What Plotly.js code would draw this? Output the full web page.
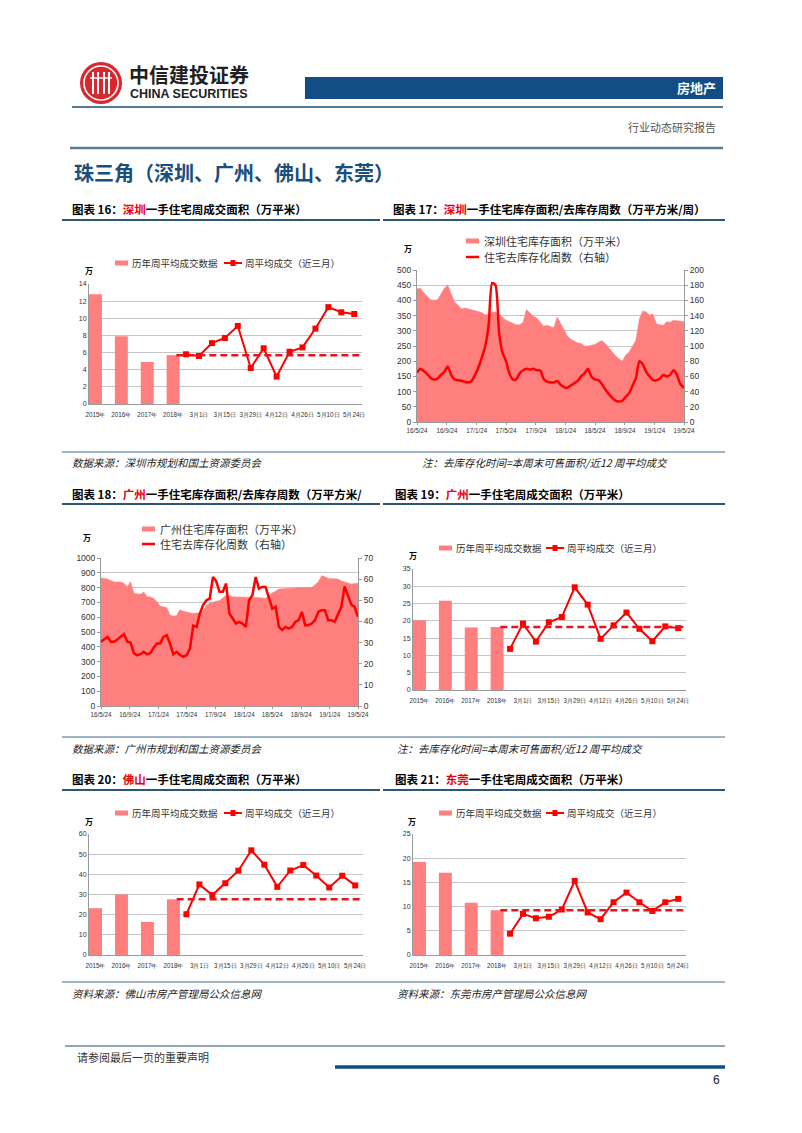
<!DOCTYPE html>
<html><head><meta charset="utf-8">
<script src="https://cdn.plot.ly/plotly-3.0.1.min.js"></script>
<style>html,body{margin:0;padding:0;background:#fff}#p{width:802px;height:1133px}</style>
</head><body><div id="p"></div>
<script>
// ---------- DATA ----------
const years = ['2015年','2016年','2017年','2018年'];
const weeks = ['2月22日','3月1日','3月8日','3月15日','3月22日','3月29日','4月5日','4月12日','4月19日','4月26日','5月3日','5月10日','5月17日','5月24日'];

const szBars = [12.8, 7.9, 4.9, 5.7];
const szWeekly = [5.8, 5.6, 7.1, 7.7, 9.1, 4.2, 6.5, 3.2, 6.1, 6.6, 8.8, 11.3, 10.7, 10.5];
const gzBars = [20.2, 25.8, 18.1, 18.2];
const gzWeekly = [11.9, 19.2, 14.0, 19.6, 21.1, 29.7, 24.7, 14.8, 18.7, 22.4, 17.7, 14.1, 18.4, 17.9];
const fsBars = [23.2, 30.0, 16.4, 27.6];
const fsWeekly = [20.2, 35.0, 29.7, 35.6, 41.8, 51.9, 44.8, 33.8, 41.9, 44.6, 39.4, 33.5, 39.3, 34.5];
const dgBars = [19.2, 17.0, 10.8, 9.25];
const dgWeekly = [4.4, 8.5, 7.6, 7.9, 9.4, 15.3, 8.8, 7.4, 10.9, 12.9, 10.9, 9.1, 10.9, 11.6];

const seriesStart = '2016-05-24', seriesEnd = '2019-05-24';
const dateTicks = ['2016-05-24','2016-09-24','2017-01-24','2017-05-24','2017-09-24','2018-01-24','2018-05-24','2018-09-24','2019-01-24','2019-05-24'];
const dateTickText = ['16/5/24','16/9/24','17/1/24','17/5/24','17/9/24','18/1/24','18/5/24','18/9/24','19/1/24','19/5/24'];

const szInventory = [438,440,425,415,402,400,402,420,440,450,
 425,395,385,372,375,372,370,368,365,360,
 352,355,362,362,355,345,335,330,325,320,
 320,328,370,358,348,342,330,315,318,315,
 310,345,325,305,282,272,265,260,258,250,
 250,252,255,262,268,258,245,230,218,208,
 200,220,230,250,270,340,365,362,352,355,
 322,320,318,330,328,335,333,332,330];
const szWeeksToClear = [65,70,67,63,58,56,57,62,66,73,
 62,56,55,54,53,52,54,62,72,85,
 100,128,183,180,120,92,80,64,56,56,
 64,68,70,69,70,68,68,57,53,52,
 52,54,49,46,45,48,51,54,60,64,
 70,60,56,55,50,43,37,32,28,27,
 28,33,38,48,58,80,76,66,60,55,
 55,57,62,60,62,68,62,50,45];
const gzInventory = [865,862,858,848,838,838,838,830,805,840,
 762,758,755,770,740,737,728,705,675,670,
 665,615,608,610,650,640,636,630,625,628,
 628,645,680,695,703,708,712,730,748,745,
 738,737,737,735,735,734,733,732,733,730,
 728,745,765,775,790,792,793,792,795,797,
 800,800,798,795,800,820,840,880,875,862,
 860,860,858,845,838,830,825,828,830];
const gzWeeksToClear = [30.4,31.5,32.7,30.4,30.4,31.5,32.7,34,30.4,30,
 25,24,24.5,25.6,24.5,25,27.5,29.6,29.6,32.7,
 33.5,29.6,24.5,25.6,24.2,23.3,24,27.2,38,37.4,
 43.7,47.7,50,50.8,61,59,54,54,57.9,43.7,
 41.4,39,39.8,39,37.4,50,52.4,61,55.5,56.3,
 56.3,50.8,46,46.9,37.4,35.9,37.4,36.6,37.4,39.8,
 40.6,44.5,38.2,38.2,39,40.6,44.5,45.3,45.3,40.6,
 40.6,39.8,43.7,46.9,56.6,52,48,46.9,42.2];

// ---------- HELPERS ----------
const W=802,H=1133;
const fx=x=>x/W, fy=y=>1-y/H;
const CJK='"Noto Sans CJK SC", "Noto Sans", sans-serif';
const NUM='"Liberation Sans", Arial, sans-serif';
const PINK='#FF7F7F', RED='#FF0000', NAVY='#1f4e79';

function datesFor(n){
  const s=Date.parse(seriesStart+'T00:00:00Z'), e=Date.parse(seriesEnd+'T00:00:00Z');
  const out=[]; for(let i=0;i<n;i++){out.push(new Date(s+(e-s)*i/(n-1)).toISOString().slice(0,10));} return out;
}
const barX = years.map((_,i)=>-7+2*i);
const weekX = weeks.map((_,i)=>i);
const catTickVals = barX.concat(weekX.filter(i=>i%2===1));
const catTickText = years.concat(weeks.filter((_,i)=>i%2===1));

const annotations=[], shapes=[];
function T(text,x,y,size,color,anchor,family){
  annotations.push({text,x:fx(x),y:fy(y),xref:'paper',yref:'paper',xanchor:anchor||'left',yanchor:'middle',
    showarrow:false,font:{family:family||CJK,size,color:color||'#000'}});
}
function L(x0,y0,x1,y1,color,width,dash){
  shapes.push({type:'line',xref:'paper',yref:'paper',x0:fx(x0),y0:fy(y0),x1:fx(x1),y1:fy(y1),line:{color,width,dash:dash||'solid'}});
}
function R(x0,y0,x1,y1,fill){
  shapes.push({type:'rect',xref:'paper',yref:'paper',x0:fx(x0),y0:fy(y0),x1:fx(x1),y1:fy(y1),fillcolor:fill,line:{width:0}});
}
function C(cx,cy,r,fill,lineColor,lw){
  shapes.push({type:'circle',xref:'paper',yref:'paper',x0:fx(cx-r),x1:fx(cx+r),y0:fy(cy+r),y1:fy(cy-r),fillcolor:fill||'rgba(0,0,0,0)',line:{color:lineColor||'rgba(0,0,0,0)',width:lw||0}});
}

// ---------- PAGE DECORATION ----------
C(101,83,21,'#d7282f');
C(101,83,17,'rgba(0,0,0,0)','#fff',1.6);
[93,98,104,109].forEach(x=>L(x,72,x,94,'#fff',2));
L(90,78,112,78,'#fff',1.4);
T('<b>中信建投证券</b>',127,75,20,'#231f20');
T('<b>CHINA SECURITIES</b>',128,94,12.5,'#231f20','left','"Liberation Sans Narrow", "Liberation Sans", Arial, sans-serif');
R(305,77,723,99,'#124e83');
T('<b>房地产</b>',718,88,13,'#fff','right');
L(72,107,723,107,NAVY,1.5);
T('行业动态研究报告',718,127,11,'#555','right');
L(70,148,723,148,'#5b7b97',2.5);
T('<b>珠三角（深圳、广州、佛山、东莞）</b>',72,173,20,'#1a4f7d');

const RC='#e60012';
T('<b>图表 16：<span style="color:'+RC+'">深圳</span>一手住宅周成交面积（万平米）</b>',70,209,11.5);
T('<b>图表 17：<span style="color:'+RC+'">深圳</span>一手住宅库存面积/去库存周数（万平方米/周）</b>',391,209,11.5);
T('<b>图表 18：<span style="color:'+RC+'">广州</span>一手住宅库存面积/去库存周数（万平方米/</b>',70,494,11.5);
T('<b>图表 19：<span style="color:'+RC+'">广州</span>一手住宅周成交面积（万平米）</b>',393,494,11.5);
T('<b>图表 20：<span style="color:'+RC+'">佛山</span>一手住宅周成交面积（万平米）</b>',70,779,11.5);
T('<b>图表 21：<span style="color:'+RC+'">东莞</span>一手住宅周成交面积（万平米）</b>',393,779,11.5);
[[220],[504],[790]].forEach(([y])=>{L(62,y,380,y,'#2c5779',2);L(383,y,725,y,'#2c5779',2);});

[452,737,982].forEach(y=>L(62,y,725,y,'#7f9bb3',1.3));
T('<i>数据来源：深圳市规划和国土资源委员会</i>',70,463,10.5,'#222');
T('<i>注：去库存化时间=本周末可售面积/近12 周平均成交</i>',420,463,10.5,'#222');
T('<i>数据来源：广州市规划和国土资源委员会</i>',70,748,10.5,'#222');
T('<i>注：去库存化时间=本周末可售面积/近12 周平均成交</i>',395,748,10.5,'#222');
T('<i>资料来源：佛山市房产管理局公众信息网</i>',70,993,10.5,'#222');
T('<i>资料来源：东莞市房产管理局公众信息网</i>',395,993,10.5,'#222');

L(65,1046,725,1046,NAVY,1);
T('请参阅最后一页的重要声明',75,1057,11,'#333');
L(335,1067,725,1067,'#124e83',3.5);
T('6',722,1080,12,'#222','right',NUM);

// ---------- LEGENDS ----------
function barLegend(x,y,text2x){
  R(x,y-2.5,x+13,y+2.5,PINK);
  T('历年周平均成交数据',x+15,y,9.5,'#333');
  const lx=text2x;
  L(lx,y,lx+18,y,RED,2);
  R(lx+6.5,y-3,lx+11.5,y+3,RED);
  T('周平均成交（近三月）',lx+19,y,9.5,'#333');
}
barLegend(115,263,224);
barLegend(439,548,546);
barLegend(115,813,224);
barLegend(439,813,546);
function areaLegend(x,y1,y2,t1,t2){
  R(x,y1-2.5,x+13,y1+2.5,PINK);
  T(t1,x+16,y1,11,'#333');
  L(x,y2,x+13,y2,RED,2.5);
  T(t2,x+16,y2,11,'#333');
}
areaLegend(466,241,257,'深圳住宅库存面积（万平米）','住宅去库存化周数（右轴）');
areaLegend(142,529,544,'广州住宅库存面积（万平米）','住宅去库存化周数（右轴）');
T('<b>万</b>',83,271,8,'#000');
T('<b>万</b>',402,248,8,'#000');
T('<b>万</b>',81,537,8,'#000');
T('<b>万</b>',407,556,8,'#000');
T('<b>万</b>',83,821,8,'#000');
T('<b>万</b>',406,821,8,'#000');

// ---------- AXES ----------
const GRID='#c4c4c4', AX='#9a9a9a';
function catX(l,r,anchor){
  return {domain:[fx(l),fx(r)],anchor,range:[-7.5,13.6],tickmode:'array',tickvals:catTickVals,ticktext:catTickText,tickangle:0,
    ticklabelstandoff:4,
    tickfont:{family:NUM,size:6.3,color:'#333'},showline:true,linecolor:AX,showgrid:false,zeroline:false,ticks:'',fixedrange:true};
}
function numY(t,b,anchor,max,dtick,fs){
  return {domain:[fy(b),fy(t)],anchor,range:[0,max],dtick,tickfont:{family:NUM,size:fs||7,color:'#333'},
    showline:true,linecolor:AX,showgrid:true,gridcolor:GRID,gridwidth:1,zeroline:false,ticks:'',fixedrange:true};
}
function dateX(l,r,anchor){
  return {domain:[fx(l),fx(r)],anchor,type:'date',range:[seriesStart,seriesEnd],tickmode:'array',tickvals:dateTicks,ticktext:dateTickText,tickangle:0,
    tickfont:{family:NUM,size:6.3,color:'#333'},showline:true,linecolor:AX,showgrid:false,zeroline:false,ticks:'outside',ticklen:2,tickcolor:AX,fixedrange:true};
}
const layout={
  width:W,height:H,margin:{l:0,r:0,t:0,b:0},paper_bgcolor:'#fff',plot_bgcolor:'#fff',showlegend:false,
  xaxis:catX(89,362,'y'), yaxis:numY(284,404,'x',14,2),
  xaxis2:dateX(417,684,'y2'),
  yaxis2:Object.assign(numY(270,422,'x2',500,50,8.5),{ticks:'outside',ticklen:3,tickcolor:AX}),
  yaxis3:{overlaying:'y2',side:'right',anchor:'x2',range:[0,200],dtick:20,showgrid:false,showline:true,linecolor:AX,zeroline:false,
    tickfont:{family:NUM,size:8.5,color:'#333'},ticks:'outside',ticklen:3,tickcolor:AX,fixedrange:true},
  xaxis3:dateX(101,358,'y4'),
  yaxis4:Object.assign(numY(558,706,'x3',1000,100,8.5),{ticks:'outside',ticklen:3,tickcolor:AX}),
  yaxis5:{overlaying:'y4',side:'right',anchor:'x3',range:[0,70],dtick:10,showgrid:false,showline:true,linecolor:AX,zeroline:false,
    tickfont:{family:NUM,size:8.5,color:'#333'},ticks:'outside',ticklen:3,tickcolor:AX,fixedrange:true},
  xaxis4:catX(413,686,'y6'), yaxis6:numY(569,690,'x4',35,5),
  xaxis5:catX(89,363,'y7'), yaxis7:numY(834,955,'x5',60,10),
  xaxis6:catX(413,686,'y8'), yaxis8:numY(834,955,'x6',25,5),
  annotations, shapes
};

// dashed 2018 reference lines
function dashRef(xref,yref,val){
  shapes.push({type:'line',xref,yref,x0:-0.75,x1:13.6,y0:val,y1:val,line:{color:'#e8141c',width:2.5,dash:'7px,4px'}});
}
dashRef('x','y',szBars[3]);
dashRef('x4','y6',gzBars[3]);
dashRef('x5','y7',fsBars[3]);
dashRef('x6','y8',dgBars[3]);

// ---------- TRACES ----------
const traces=[];
function barChart(xa,ya,bars,wk){
  traces.push({type:'bar',x:barX,y:bars,width:1,xaxis:xa,yaxis:ya,marker:{color:PINK,line:{width:0}},hoverinfo:'skip'});
  traces.push({type:'scatter',mode:'lines+markers',x:weekX,y:wk,xaxis:xa,yaxis:ya,
    line:{color:RED,width:2},marker:{symbol:'square',size:6,color:RED},hoverinfo:'skip'});
}
barChart('x','y',szBars,szWeekly);
barChart('x4','y6',gzBars,gzWeekly);
barChart('x5','y7',fsBars,fsWeekly);
barChart('x6','y8',dgBars,dgWeekly);

const szDates=datesFor(szInventory.length), gzDates=datesFor(gzInventory.length);
traces.push({type:'scatter',mode:'lines',x:szDates,y:szInventory,xaxis:'x2',yaxis:'y2',fill:'tozeroy',fillcolor:PINK,line:{color:PINK,width:0.5,shape:'linear'},hoverinfo:'skip'});
traces.push({type:'scatter',mode:'lines',x:datesFor(szWeeksToClear.length),y:szWeeksToClear,xaxis:'x2',yaxis:'y3',line:{color:RED,width:2.5,shape:'spline',smoothing:0.6},hoverinfo:'skip'});
traces.push({type:'scatter',mode:'lines',x:gzDates,y:gzInventory,xaxis:'x3',yaxis:'y4',fill:'tozeroy',fillcolor:PINK,line:{color:PINK,width:0.5},hoverinfo:'skip'});
traces.push({type:'scatter',mode:'lines',x:datesFor(gzWeeksToClear.length),y:gzWeeksToClear,xaxis:'x3',yaxis:'y5',line:{color:RED,width:2.5},hoverinfo:'skip'});

Plotly.newPlot('p',traces,layout,{staticPlot:true,displayModeBar:false});
</script></body></html>
